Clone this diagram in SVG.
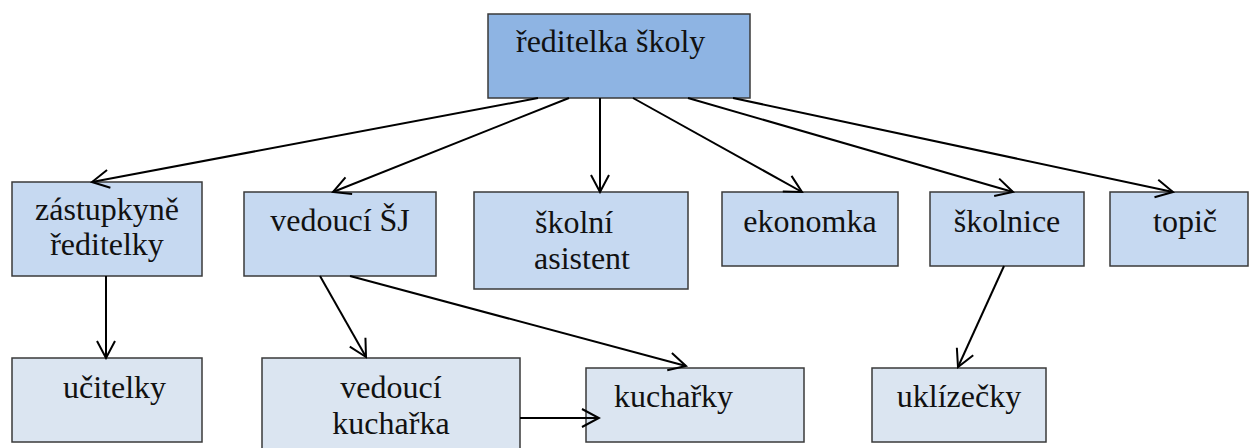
<svg xmlns="http://www.w3.org/2000/svg" width="1249" height="448" viewBox="0 0 1249 448">
<style>
.box{stroke:#3a3a3a;stroke-width:1.5}
.top{fill:#8EB4E3}
.mid{fill:#C6D9F1}
.low{fill:#DBE5F1}
.t text{font-family:'Times New Roman','Liberation Serif',Tinos,'Noto Serif','DejaVu Serif',serif;font-size:32px;fill:#111}
.c{text-anchor:middle}
.conn line{stroke:#000;stroke-width:2;marker-end:url(#arr)}
</style>
<defs>
<marker id="arr" markerUnits="userSpaceOnUse" markerWidth="22" markerHeight="22" viewBox="-20 -11 22 22" refX="0" refY="0" orient="auto">
<path d="M-17,-9 L0,0 L-17,9" fill="none" stroke="#000" stroke-width="2"/>
</marker>
</defs>
<rect width="1249" height="448" fill="#fff"/>
<g class="t">
<g id="n-reditelka"><rect class="box top" x="488" y="14" width="262" height="84"/><text x="516" y="52">ředitelka školy</text></g>
<g id="n-zastupkyne"><rect class="box mid" x="12" y="182" width="190" height="94"/><text class="c" x="107" y="220">zástupkyně</text><text class="c" x="107" y="255">ředitelky</text></g>
<g id="n-vedouciSJ"><rect class="box mid" x="244" y="192" width="192" height="84"/><text class="c" x="340" y="231">vedoucí ŠJ</text></g>
<g id="n-asistent"><rect class="box mid" x="474" y="192" width="214" height="97"/><text x="535" y="233">školní</text><text x="534" y="269">asistent</text></g>
<g id="n-ekonomka"><rect class="box mid" x="722" y="192" width="176" height="74"/><text class="c" x="810" y="232">ekonomka</text></g>
<g id="n-skolnice"><rect class="box mid" x="930" y="192" width="154" height="74"/><text class="c" x="1007" y="232">školnice</text></g>
<g id="n-topic"><rect class="box mid" x="1110" y="192" width="138" height="74"/><text x="1153" y="232">topič</text></g>
<g id="n-ucitelky"><rect class="box low" x="12" y="358" width="190" height="84"/><text x="63" y="398">učitelky</text></g>
<g id="n-vedkuch"><rect class="box low" x="262" y="358" width="258" height="100"/><text class="c" x="391" y="398">vedoucí</text><text class="c" x="391" y="434">kuchařka</text></g>
<g id="n-kucharky"><rect class="box low" x="586" y="368" width="218" height="74"/><text x="614" y="407">kuchařky</text></g>
<g id="n-uklizecky"><rect class="box low" x="872" y="368" width="174" height="74"/><text class="c" x="959" y="407">uklízečky</text></g>
</g>
<g id="connectors" class="conn">
<line x1="538" y1="98" x2="92" y2="182"/>
<line x1="569" y1="98" x2="333" y2="192"/>
<line x1="600" y1="98" x2="600" y2="192"/>
<line x1="633" y1="98" x2="802" y2="192"/>
<line x1="688" y1="98" x2="1013" y2="192"/>
<line x1="733" y1="98" x2="1173" y2="192"/>
<line x1="106" y1="276" x2="106" y2="358"/>
<line x1="320" y1="276" x2="366" y2="357"/>
<line x1="350" y1="276" x2="686" y2="366"/>
<line x1="520" y1="418" x2="599" y2="418"/>
<line x1="1004" y1="266" x2="958" y2="367"/>
</g>
</svg>
